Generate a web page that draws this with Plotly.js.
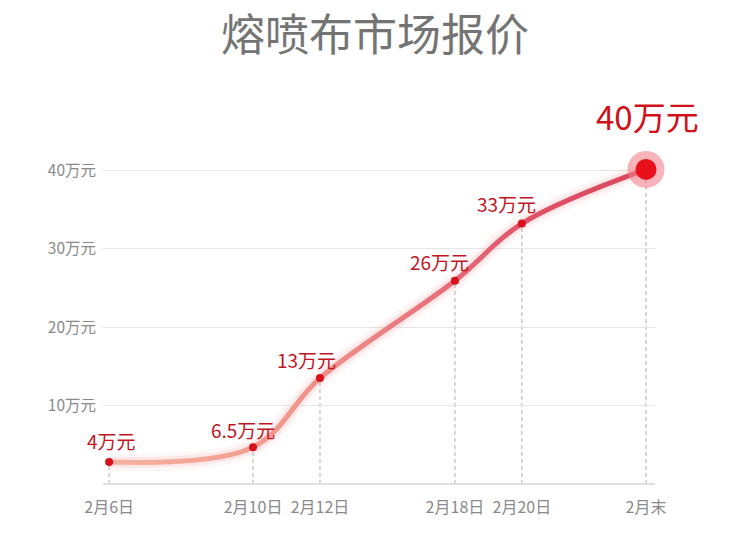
<!DOCTYPE html>
<html><head><meta charset="utf-8">
<script src="https://cdn.plot.ly/plotly-3.0.1.min.js"></script>
<style>html,body{margin:0;padding:0;background:#fff}#chart{width:750px;height:541px}</style>
</head><body><div id="chart"></div>
<script>
// Data
const categories = ['2月6日', '2月10日', '2月12日', '2月18日', '2月20日', '2月末'];
const xPos = [0, 4, 5.86, 9.61, 11.47, 14.92];           // horizontal spacing as drawn
const plotted = [2.8, 4.7, 13.5, 25.9, 33.2, 40.1];      // height as drawn (万元)
const labels = ['4万元', '6.5万元', '13万元', '26万元', '33万元', '40万元'];
const yTickVals = [10, 20, 30, 40];
const yTickText = ['10万元', '20万元', '30万元', '40万元'];

const lastI = plotted.length - 1;
const font = '"Noto Sans CJK SC", "Noto Sans", sans-serif';

const traces = [
  {x: xPos, y: plotted, mode: 'lines', line: {shape: 'spline', smoothing: 1, width: 18, color: 'rgba(240,120,120,0.06)'}, hoverinfo: 'skip', cliponaxis: false},
  {x: xPos, y: plotted, mode: 'lines', line: {shape: 'spline', smoothing: 1, width: 11, color: 'rgba(240,120,120,0.12)'}, hoverinfo: 'skip', cliponaxis: false},
  {x: xPos, y: plotted, mode: 'lines', line: {shape: 'spline', smoothing: 1, width: 5, color: '#e8707a'}, hoverinfo: 'skip', cliponaxis: false},
  {x: xPos.slice(0, lastI), y: plotted.slice(0, lastI), mode: 'markers', marker: {size: 8, color: '#d8101c'}, hoverinfo: 'skip', cliponaxis: false},
  {x: [xPos[lastI]], y: [plotted[lastI]], mode: 'markers', marker: {size: 37, color: 'rgba(242,130,140,0.6)'}, hoverinfo: 'skip', cliponaxis: false},
  {x: [xPos[lastI]], y: [plotted[lastI]], mode: 'markers', marker: {size: 21, color: '#e8101a'}, hoverinfo: 'skip', cliponaxis: false}
];

const shiftX = [2, -10, -13, -15, -15, 1];
const shiftY = [22, 18, 19, 19, 20, 53];
const annotations = labels.map((t, i) => ({
  x: xPos[i], y: plotted[i], text: t, showarrow: false,
  xshift: shiftX[i], yshift: shiftY[i],
  font: {family: font, size: i === lastI ? 33 : 19, color: i === lastI ? '#d0101a' : '#c0141e'}
}));

const shapes = xPos.map((x, i) => ({
  type: 'line', xref: 'x', yref: 'y', x0: x, x1: x, y0: 0, y1: plotted[i],
  line: {color: '#b0b0b0', width: 1, dash: '4px,3px'}, layer: 'below'
}));

const layout = {
  width: 750, height: 541,
  paper_bgcolor: '#fff', plot_bgcolor: '#fff',
  margin: {l: 103, r: 95, t: 131, b: 57},
  showlegend: false,
  title: {text: '熔喷布市场报价', x: 0.5, xanchor: 'center', y: 0.935, yref: 'container', yanchor: 'middle',
          font: {family: font, size: 44, color: '#747474'}},
  xaxis: {range: [-0.17, 15.17], tickvals: xPos, ticktext: categories, showgrid: false, zeroline: false,
          showline: false, ticks: '', ticklabelstandoff: 12, tickfont: {family: font, size: 16, color: '#8a8a8a'}, fixedrange: true},
  yaxis: {range: [0, 45], tickvals: yTickVals, ticktext: yTickText, showgrid: true, gridcolor: '#e6e6e6', gridwidth: 1,
          zeroline: true, zerolinecolor: '#e0e0e0', zerolinewidth: 1.5, showline: false, ticks: '', ticklabelstandoff: 6,
          tickfont: {family: font, size: 15.5, color: '#8a8a8a'}, fixedrange: true},
  annotations: annotations,
  shapes: shapes
};

Plotly.newPlot('chart', traces, layout, {displayModeBar: false, staticPlot: true}).then(gd => {
  const svg = gd.querySelector('svg.main-svg');
  const ns = 'http://www.w3.org/2000/svg';
  let defs = svg.querySelector('defs');
  if (!defs) { defs = document.createElementNS(ns, 'defs'); svg.insertBefore(defs, svg.firstChild); }
  const grad = document.createElementNS(ns, 'linearGradient');
  grad.setAttribute('id', 'lineGrad');
  grad.setAttribute('x1', '0'); grad.setAttribute('x2', '1'); grad.setAttribute('y1', '0'); grad.setAttribute('y2', '0');
  [[0, '#f5b2a2'], [0.3, '#f29c8e'], [0.55, '#ea7a80'], [0.8, '#df5066'], [1, '#d9475f']].forEach(([o, c]) => {
    const s = document.createElementNS(ns, 'stop');
    s.setAttribute('offset', o); s.setAttribute('stop-color', c); grad.appendChild(s);
  });
  defs.appendChild(grad);
  const lines = gd.querySelectorAll('.scatterlayer .trace .js-line');
  if (lines[2]) lines[2].style.stroke = 'url(#lineGrad)';
});
</script></body></html>
